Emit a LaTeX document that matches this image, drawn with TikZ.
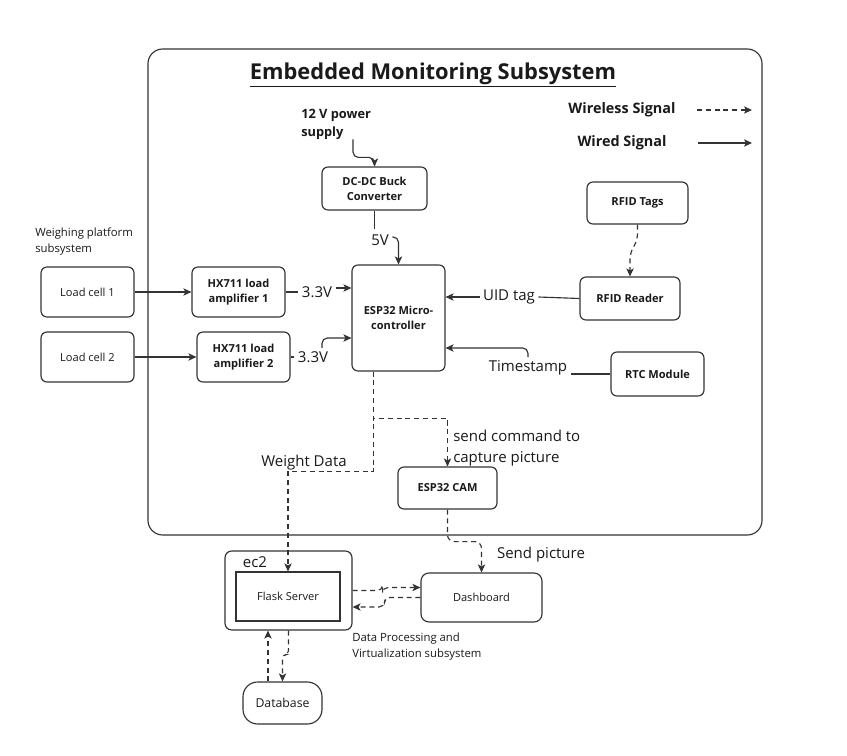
\documentclass[tikz,border=0pt]{standalone}
\usepackage{fontspec}
\setmainfont{Open Sans}
\usetikzlibrary{arrows.meta,calc}
\definecolor{lnc}{HTML}{333333}
\definecolor{txc}{HTML}{1A1A1A}
\newcommand\fsz[2]{\fontsize{#1}{#2}\selectfont}
\begin{document}
\begin{tikzpicture}[x=0.75pt,y=-0.75pt,
  sz/.style 2 args={minimum width=#1*0.75pt, minimum height=#2*0.75pt},
  box/.style={draw=lnc, line width=0.85pt, rounded corners=4.5pt, align=center,
    font=\fsz{8.3pt}{11.25pt}\bfseries, text=txc, inner sep=0pt},
  pbox/.style={box, font=\fsz{8.3pt}{11.25pt}},
  seg/.style={draw=lnc, line width=0.85pt},
  wire/.style={seg, -{Stealth[length=6pt,width=5.5pt,inset=1.5pt]}},
  wl/.style={wire, dash pattern=on 3.8pt off 2.8pt},
  lbl/.style={font=\fsz{11.25pt}{15.75pt}, text=txc, inner sep=2.5pt},
  small/.style={font=\fsz{8.5pt}{12pt}, text=txc, inner sep=0pt},
]
\useasboundingbox (0,0) rectangle (847,756);
\fill[white] (0,0) rectangle (847,756);

% outer frame
\node[draw=lnc, line width=0.85pt, rounded corners=11pt, sz={614}{486}, inner sep=0pt] (outer) at (455,292) {};
\node[font=\fsz{16.4pt}{18pt}\bfseries, text=txc, inner sep=0pt] (title) at (433,75) {\underline{Embedded Monitoring Subsystem}};

% legend
\node[font=\fsz{10.8pt}{12pt}\bfseries, text=txc] (lw) at (622,110) {Wireless Signal};
\node[font=\fsz{10.8pt}{12pt}\bfseries, text=txc] (lwd) at (622,143) {Wired Signal};
\coordinate (lw1) at (697,110);
\coordinate (lw2) at (752,110);
\coordinate (ld1) at (698,143);
\coordinate (ld2) at (752,143);
\draw[wl] (lw1) -- (lw2);
\draw[wire] (ld1) -- (ld2);

% boxes
\node[box, sz={105}{43}] (buck) at (374.5,188.5) {DC-DC Buck\\Converter};
\node[box, sz={93}{106}] (esp) at (398.5,318) {ESP32 Micro-\\controller};
\node[box, sz={100}{43}] (rfidr) at (630,298.5) {RFID Reader};
\node[box, sz={93}{44}] (rtc) at (657.5,374) {RTC Module};
\node[box, sz={101}{42}] (rfidt) at (637.5,203) {RFID Tags};
\node[box, sz={93}{50}] (hx1) at (238.5,292) {HX711 load\\amplifier 1};
\node[box, sz={93}{50}] (hx2) at (243.5,357) {HX711 load\\amplifier 2};
\node[pbox, sz={93}{50}] (lc1) at (87.5,292) {Load cell 1};
\node[pbox, sz={93}{50}] (lc2) at (87.5,357) {Load cell 2};
\node[box, sz={99}{42}] (cam) at (447.5,488) {ESP32 CAM};
\node[pbox, sz={127}{79}, rounded corners=5pt] (ec2) at (288.5,590.5) {};
\node[pbox, sz={104}{49}, sharp corners] (flask) at (288,596.5) {Flask Server};
\node[pbox, sz={121}{49}, rounded corners=6pt] (dash) at (481.5,597.5) {Dashboard};
\node[pbox, sz={79}{42}, rounded corners=11pt, font=\fsz{9.2pt}{11pt}] (db) at (282.5,703) {Database};

% labels
\node[font=\fsz{9.6pt}{13.5pt}\bfseries, text=txc, anchor=west, align=left, inner sep=0pt] (ps) at (301,124) {12 V power\\supply};
\node[lbl] (v5) at (380,240) {5V};
\node[lbl] (v33a) at (317,292) {3.3V};
\node[lbl] (v33b) at (313,357) {3.3V};
\node[lbl] (uid) at (509,297) {UID tag};
\node[lbl] (ts) at (528,368) {Timestamp};
\node[lbl, anchor=west, align=left, inner sep=0pt] (cmd) at (453,448) {send command to\\capture picture};
\node[lbl] (wd) at (304,463) {Weight Data};
\node[lbl] (sp) at (541,555) {Send picture};
\node[lbl] (ec2l) at (255,562) {ec2};
\node[small, anchor=west, align=left] (wps) at (35,242) {Weighing platform\\subsystem};
\node[small, anchor=west, align=left] (dps) at (352,647) {Data Processing and\\Virtualization subsystem};

% wired connectors
\draw[wire, rounded corners=4] ([xshift=39pt]ps.south west) |- ($(buck.north)+(0,-9)$) -- (buck.north);
\draw[seg] (buck.south) -- ++(0,18);
\draw[wire, rounded corners=4] ($(v5.east)+(0,-3)$) -| (esp.north);
\draw[wire] (lc1.east) -- (hx1.west);
\draw[wire] (lc2.east) -- (hx2.west);
\draw[seg] (hx1.east) -- (v33a.west);
\draw[wire] ([yshift=3pt]v33a.east) -- ([yshift=3pt]v33a.east -| esp.west);
\draw[seg] (hx2.east) -- (v33b.west);
\draw[wire, rounded corners=4] ([xshift=6.75pt]v33b.north) |- ([yshift=-15pt]esp.west);
\draw[seg] (rfidr.west) -- (uid.east);
\draw[wire] (uid.west) -- (uid.west -| esp.east);
\draw[seg] (rtc.west) -- (ts.east |- rtc.west);
\draw[wire, rounded corners=4] (ts.north) |- ([yshift=-22.5pt]esp.east);

% wireless connectors
\draw[wl, rounded corners=5] (rfidt.south) -- ++(0,16) -- ($(rfidr.north)+(0,-24)$) -- (rfidr.north);
\draw[wl] ([xshift=-19pt]esp.south) -- ++(0,47) -| (cam.north);
\draw[wl] ([xshift=-19pt]esp.south) -- ++(0,100) -| (flask.north);
\draw[wl, rounded corners=5] (cam.south) -- ++(0,32) -| (dash.north);
\draw[wl, rounded corners=4] (ec2.east) -- ++(30,0) |- ([yshift=7.5pt]dash.west);
\draw[wl, rounded corners=4] (dash.west) -- ++(-36,0) |- ([yshift=-12.4pt]ec2.east);
\draw[wl] ([xshift=-10.9pt]db.north) -- ([xshift=-10.9pt]db.north |- ec2.south);
\draw[wl, rounded corners=3] (ec2.south) -- ++(0,24) -| (db.north);
\end{tikzpicture}
\end{document}
